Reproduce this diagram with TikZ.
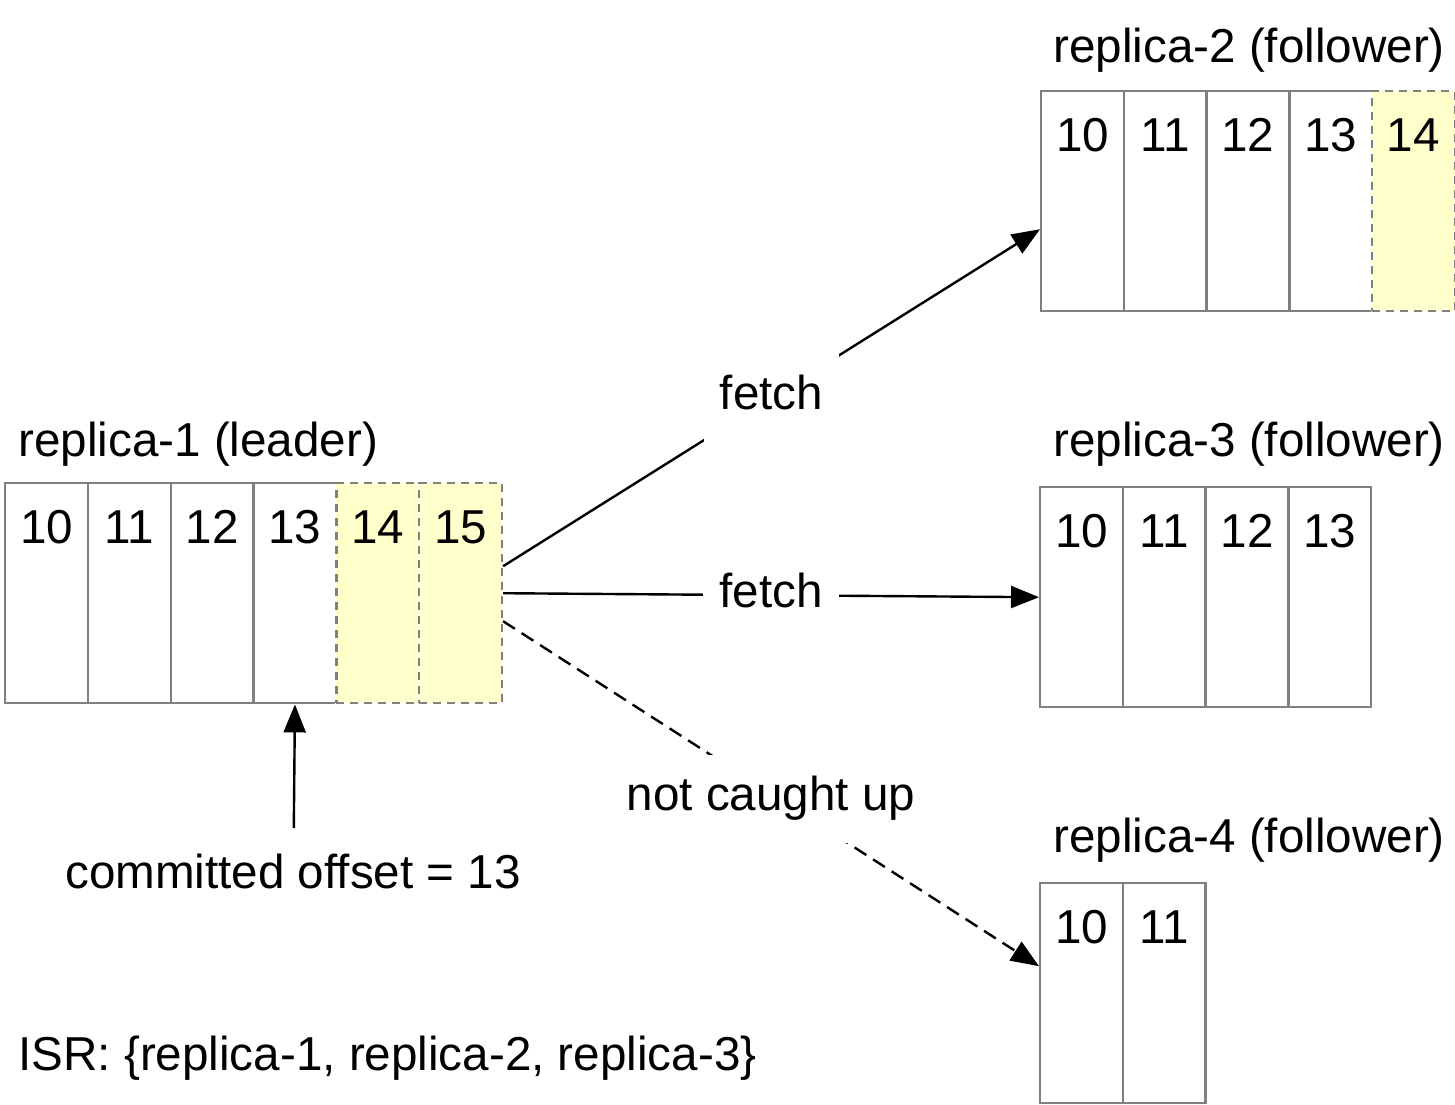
\documentclass[tikz,border=0pt]{standalone}
\usepackage{fontspec}
\setmainfont{Liberation Sans}
\usetikzlibrary{arrows.meta,calc}
\definecolor{cellgray}{HTML}{808080}
\definecolor{cellyellow}{HTML}{FFFFCC}
\begin{document}
\begin{tikzpicture}[x=0.5pt,y=-0.5pt,
  font=\fontsize{23.8}{28}\selectfont,
  cell/.style={draw=cellgray, line width=1.2pt, fill=white, minimum width=41.35pt,
    inner sep=0pt, text height=30pt, text depth=80pt, anchor=north west},
  newcell/.style={cell, fill=cellyellow, dash pattern=on 4pt off 3pt,
    preaction={draw=white, solid, line width=1.2pt}},
  arr/.style={line width=1.2pt, -{Triangle[length=14pt,width=11pt]}},
  lbl/.style={fill=white, inner xsep=8pt, inner ysep=11pt,
    text height=17pt, text depth=5pt},
  txt/.style={inner sep=0pt}]
\useasboundingbox (0,0) rectangle (1455,1104);

% replica-1 (leader)
\foreach \n [count=\i from 0] in {10,11,12,13}
  \node[cell] (r1c\n) at (4+82.8*\i,482) {\n};
\node[newcell] (r1c14) at (4+82.8*4,482) {14};
\node[newcell] (r1c15) at (4+82.8*5,482) {15};

% replica-2
\foreach \n [count=\i from 0] in {10,11,12,13}
  \node[cell] (r2c\n) at (1040+82.7*\i,90) {\n};
\node[newcell] (r2c14) at (1040+82.7*4,90) {14};

% replica-3
\foreach \n [count=\i from 0] in {10,11,12,13}
  \node[cell] (r3c\n) at (1039+82.75*\i,486) {\n};

% replica-4
\foreach \n [count=\i from 0] in {10,11}
  \node[cell] (r4c\n) at (1039+82.75*\i,882) {\n};

% titles
\node[txt, anchor=base west] (l1) at (18,456) {replica-1 (leader)};
\node[txt, anchor=base west] (l2) at (1053,62) {replica-2 (follower)};
\node[txt, anchor=base west] (l3) at (1053,456) {replica-3 (follower)};
\node[txt, anchor=base west] (l4) at (1053,852) {replica-4 (follower)};

\node[txt, anchor=base] (commit) at (293,888) {committed offset = 13};
\node[txt, anchor=base west] (isr) at (18,1070) {ISR: \{replica-1, replica-2, replica-3\}};

% connectors
\coordinate (cstart) at (293.8,828);
\draw[arr] (cstart) -- (r1c13.south);

\draw[arr] ($(r1c15.east)+(0,-27)$) -- node[lbl] {fetch} ($(r2c10.west)+(0,28)$);
\draw[arr] (r1c15.east) -- node[lbl] {fetch} (r3c10.west);
\draw[arr, dash pattern=on 7pt off 4pt] ($(r1c15.east)+(0,28)$) -- node[lbl, yshift=-2.5pt] {not caught up} ($(r4c10.west)+(0,-27)$);
\end{tikzpicture}
\end{document}
